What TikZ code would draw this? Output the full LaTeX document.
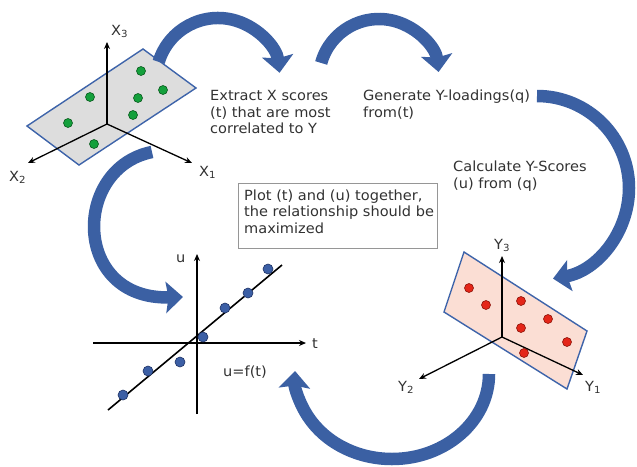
\documentclass[tikz,border=0pt]{standalone}
\usepackage{fontspec}
\setmainfont{DejaVu Sans}[FakeStretch=1.04]
\usetikzlibrary{arrows.meta}
\definecolor{arrowblue}{RGB}{59,96,163}
\definecolor{planeblue}{RGB}{62,100,170}
\definecolor{planegray}{RGB}{221,221,221}
\definecolor{planepink}{RGB}{251,222,212}
\definecolor{dotgreen}{RGB}{20,160,60}
\definecolor{dotgreenline}{RGB}{10,90,30}
\definecolor{dotred}{RGB}{228,38,25}
\definecolor{dotredline}{RGB}{140,20,10}
\definecolor{dotblue}{RGB}{60,95,165}
\definecolor{dotblueline}{RGB}{30,50,100}
\definecolor{txt}{RGB}{50,50,50}
\definecolor{boxgray}{RGB}{150,150,150}
\begin{document}
\begin{tikzpicture}[x=1pt,y=-1pt,
  bigarrow/.style={draw=arrowblue, line width=12.5pt,
    -{Stealth[length=17pt,width=31pt,inset=2.5pt]}},
  plane/.style={draw=planeblue, line width=1.4pt, line join=miter},
  axis/.style={draw=black, line width=1.3pt, -{Stealth[length=7pt,width=6pt]}},
  gdot/.style={circle, fill=dotgreen, draw=dotgreenline, line width=0.6pt, minimum size=9pt, inner sep=0pt},
  rdot/.style={circle, fill=dotred, draw=dotredline, line width=0.6pt, minimum size=9pt, inner sep=0pt},
  bdot/.style={circle, fill=dotblue, draw=dotblueline, line width=0.6pt, minimum size=10pt, inner sep=0pt},
  lbl/.style={font=\fontsize{14}{16.5}\selectfont, text=txt, inner sep=0pt, align=left, anchor=base west},
  axlbl/.style={font=\fontsize{14}{16.5}\selectfont, text=txt, inner sep=0pt, anchor=base west},
  boxst/.style={draw=boxgray, line width=1.2pt, fill=white, inner sep=0pt, anchor=north west,
    minimum width=199pt, minimum height=65pt}
]
\useasboundingbox (0,0) rectangle (637,466);

% ---------- X plane ----------
\draw[plane, fill=planegray] (143,49) -- (196,88) -- (79,165) -- (27,126) -- cycle;
\coordinate (xo) at (107,124);
\coordinate (x3e) at (107,42);
\coordinate (x1e) at (192,163);
\coordinate (x2e) at (28,163);
\draw[axis] (xo) -- (x3e);
\draw[axis] (xo) -- (x1e);
\draw[axis] (xo) -- (x2e);
\node[axlbl] (lx3) at (111,35) {X\textsubscript{3}};
\node[axlbl] (lx1) at (199,176) {X\textsubscript{1}};
\node[axlbl] (lx2) at (9,181) {X\textsubscript{2}};
\node[gdot] (g1) at (141,71) {};
\node[gdot] (g2) at (163,90) {};
\node[gdot] (g3) at (138,98) {};
\node[gdot] (g4) at (90,97) {};
\node[gdot] (g5) at (133,115) {};
\node[gdot] (g6) at (68,123) {};
\node[gdot] (g7) at (94,144) {};

% ---------- Y plane ----------
\draw[plane, fill=planepink] (464,252) -- (587,331) -- (567,389) -- (444,312) -- cycle;
\coordinate (yo) at (502,337);
\coordinate (y3e) at (502,256);
\coordinate (y1e) at (583,375);
\coordinate (y2e) at (419,379);
\draw[axis] (yo) -- (y3e);
\draw[axis] (yo) -- (y1e);
\draw[axis] (yo) -- (y2e);
\node[axlbl] (ly3) at (494,249) {Y\textsubscript{3}};
\node[axlbl] (ly1) at (585,391) {Y\textsubscript{1}};
\node[axlbl] (ly2) at (398,391) {Y\textsubscript{2}};
\node[rdot] (r1) at (469,288) {};
\node[rdot] (r2) at (486,305) {};
\node[rdot] (r3) at (521,301) {};
\node[rdot] (r4) at (548,319) {};
\node[rdot] (r5) at (521,328) {};
\node[rdot] (r6) at (567,342) {};
\node[rdot] (r7) at (524,353) {};

% ---------- scatter plot ----------
\coordinate (ub) at (197,414);
\coordinate (ut) at (197,254);
\coordinate (tl) at (93,343);
\coordinate (tr) at (306,343);
\draw[axis, line width=1.6pt] (ub) -- (ut);
\draw[axis, line width=1.6pt] (tl) -- (tr);
\node[axlbl] (lu) at (176,262) {u};
\node[axlbl] (lt) at (312,348) {t};
\coordinate (fa) at (108,410);
\coordinate (fb) at (282,265);
\draw[line width=1.6pt] (fa) -- (fb);
\node[bdot] (b1) at (268,269) {};
\node[bdot] (b2) at (248,293) {};
\node[bdot] (b3) at (225,308) {};
\node[bdot] (b4) at (203,337) {};
\node[bdot] (b5) at (180,362) {};
\node[bdot] (b6) at (148,371) {};
\node[bdot] (b7) at (123,395) {};
\node[axlbl] (lf) at (223,376) {u=f(t)};

% ---------- text (anchor = baseline of last line) ----------
\node[lbl] (t1) at (210,133.7) {Extract X scores\\(t) that are most\\correlated to Y};
\node[lbl] (t2) at (363,117.2) {Generate Y-loadings(q)\\from(t)};
\node[lbl] (t3) at (453,188.2) {Calculate Y-Scores\\(u) from (q)};
\node[boxst] (box) at (238,183) {};
\node[lbl] (t4) at (244,233.3) {Plot (t) and (u) together,\\the relationship should be\\maximized};

% ---------- big arrows ----------
\draw[bigarrow] (218,80) ++(-163:62) arc[start angle=-163, end angle=-6.7, radius=62];
\draw[bigarrow] (379,79) ++(-164.5:60) arc[start angle=-164.5, end angle=-6.7, radius=60];
\draw[bigarrow] (537,188) ++(-90:92) arc[start angle=-90, end angle=80, radius=92];
\draw[bigarrow] (392,374) ++(0:97 and 85) arc[start angle=0, end angle=182, x radius=97, y radius=85];
\draw[bigarrow] (152,152) .. controls (72,168) and (72,300) .. (183,297);
\end{tikzpicture}
\end{document}
